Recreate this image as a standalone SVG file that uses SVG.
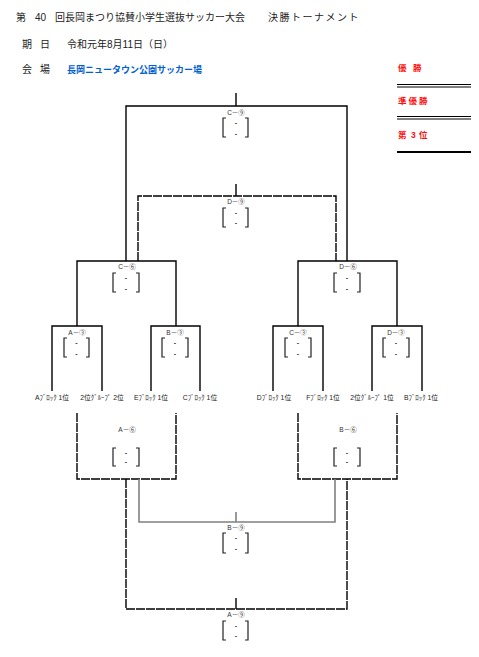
<svg xmlns="http://www.w3.org/2000/svg" width="479" height="657" viewBox="0 0 479 657">
<style>
text{font-family:"Liberation Sans","Noto Sans CJK JP",sans-serif;fill:#222}
.hd{font-size:10px}
.lb{font-size:6.5px;text-anchor:middle;fill:#333}
.sc{font-size:7px;text-anchor:middle;fill:#333;font-weight:bold}
.tm{font-size:6.8px;text-anchor:middle;fill:#222}
.rd{font-size:8.5px;font-weight:bold;fill:#ff1010}
.ln{stroke:#000;stroke-width:1.4;fill:none}
.ds{stroke:#000;stroke-width:1.4;fill:none;stroke-dasharray:9,1}
.gy{stroke:#808080;stroke-width:1.6;fill:none}
.br{stroke:#222;stroke-width:1.2;fill:none}
</style>
<g id="header">
<text class="hd" x="16" y="21">第<tspan x="35">40</tspan><tspan x="55">回長岡まつり協賛小学生選抜サッカー大会</tspan></text>
<text class="hd" x="268" y="21" letter-spacing="1.5">決勝トーナメント</text>
<text class="hd" x="22" y="48">期</text><text class="hd" x="40" y="48">日</text>
<text class="hd" x="67" y="48">令和元年8月11日（日）</text>
<text class="hd" x="22" y="73">会</text><text class="hd" x="40" y="73">場</text>
<text x="67" y="73" style="font-size:9px;font-weight:bold;fill:#0060d0">長岡ニュータウン公園サッカー場</text>
</g>
<g id="results">
<text class="rd" x="398" y="71">優<tspan x="413">勝</tspan></text>
<line x1="397" y1="84.5" x2="471" y2="84.5" stroke="#000" stroke-width="1"/>
<line x1="397" y1="87" x2="471" y2="87" stroke="#000" stroke-width="1"/>
<text class="rd" x="398" y="104" letter-spacing="2">準優勝</text>
<line x1="397" y1="116.5" x2="471" y2="116.5" stroke="#000" stroke-width="1"/>
<line x1="397" y1="119" x2="471" y2="119" stroke="#000" stroke-width="1"/>
<text class="rd" x="398" y="138">第<tspan x="411">3</tspan><tspan x="419">位</tspan></text>
<line x1="397" y1="152" x2="471" y2="152" stroke="#000" stroke-width="2"/>
</g>
<g id="connectors">
<path class="ln" d="M236,93 V106 M126,261 V106 H347 V261"/>
<path class="ln" d="M236,184 V196"/>
<path class="ds" d="M138,261 V196 H336 V261"/>
<path class="ln" d="M77,326 V261 H176 V326"/>
<path class="ln" d="M298,326 V261 H397 V326"/>
<path class="ln" d="M52,391 V326 H102 V391"/>
<path class="ln" d="M151,391 V326 H200 V391"/>
<path class="ln" d="M273,391 V326 H323 V391"/>
<path class="ln" d="M372,391 V326 H422 V391"/>
<path class="ds" d="M77,413 V479 H176 V413"/>
<path class="ds" d="M298,413 V479 H397 V413"/>
<path class="gy" d="M139,479 V522 H335 V479 M236,512 V522"/>
<path class="ds" d="M126,479 V609 H347 V479"/>
<path class="ln" d="M236,598 V609"/>
</g>
<g id="m-C9"><text class="lb" x="236" y="115">C－⑨</text>
<path class="br" d="M226,118 H223 V137 H226 M245,118 H248 V137 H245"/><text class="sc" x="236" y="125">-</text><text class="sc" x="236" y="136">-</text></g>
<g id="m-D9"><text class="lb" x="236" y="204">D－⑨</text>
<path class="br" d="M226,208 H223 V227 H226 M245,208 H248 V227 H245"/><text class="sc" x="236" y="215">-</text><text class="sc" x="236" y="225">-</text></g>
<g id="m-C6"><text class="lb" x="127" y="269">C－⑥</text>
<path class="br" d="M116,273 H113 V292 H116 M136,273 H139 V292 H136"/><text class="sc" x="126" y="280">-</text><text class="sc" x="126" y="291">-</text></g>
<g id="m-D6"><text class="lb" x="348" y="269">D－⑥</text>
<path class="br" d="M337,273 H334 V292 H337 M357,273 H360 V292 H357"/><text class="sc" x="347" y="280">-</text><text class="sc" x="347" y="291">-</text></g>
<g id="m-A3"><text class="lb" x="77" y="335">A－③</text>
<path class="br" d="M67,338 H64 V357 H67 M86,338 H89 V357 H86"/><text class="sc" x="76.5" y="345">-</text><text class="sc" x="76.5" y="356">-</text></g>
<g id="m-B3"><text class="lb" x="175" y="335">B－③</text>
<path class="br" d="M165,338 H162 V357 H165 M185,338 H188 V357 H185"/><text class="sc" x="175" y="345">-</text><text class="sc" x="175" y="356">-</text></g>
<g id="m-C3"><text class="lb" x="298" y="335">C－③</text>
<path class="br" d="M288,338 H285 V357 H288 M308,338 H311 V357 H308"/><text class="sc" x="298" y="345">-</text><text class="sc" x="298" y="356">-</text></g>
<g id="m-D3"><text class="lb" x="396" y="335">D－③</text>
<path class="br" d="M386,338 H383 V357 H386 M406,338 H409 V357 H406"/><text class="sc" x="396" y="345">-</text><text class="sc" x="396" y="356">-</text></g>
<g id="teams">
<text class="tm" x="52" y="400">Aﾌﾞﾛｯｸ 1位</text>
<text class="tm" x="102" y="400">2位ｸﾞﾙｰﾌﾟ 2位</text>
<text class="tm" x="151" y="400">Eﾌﾞﾛｯｸ 1位</text>
<text class="tm" x="200" y="400">Cﾌﾞﾛｯｸ 1位</text>
<text class="tm" x="274" y="400">Dﾌﾞﾛｯｸ 1位</text>
<text class="tm" x="323" y="400">Fﾌﾞﾛｯｸ 1位</text>
<text class="tm" x="372" y="400">2位ｸﾞﾙｰﾌﾟ 1位</text>
<text class="tm" x="421" y="400">Bﾌﾞﾛｯｸ  1位</text>
</g>
<g id="m-A6"><text class="lb" x="127" y="432">A－⑥</text>
<path class="br" d="M116,448 H113 V466 H116 M136,448 H139 V466 H136"/><text class="sc" x="126" y="455">-</text><text class="sc" x="126" y="464">-</text></g>
<g id="m-B6"><text class="lb" x="348" y="432">B－⑥</text>
<path class="br" d="M337,448 H334 V466 H337 M357,448 H360 V466 H357"/><text class="sc" x="347" y="455">-</text><text class="sc" x="347" y="464">-</text></g>
<g id="m-B9"><text class="lb" x="236" y="530">B－⑨</text>
<path class="br" d="M226,533 H223 V553 H226 M245,533 H248 V553 H245"/><text class="sc" x="236" y="540">-</text><text class="sc" x="236" y="551">-</text></g>
<g id="m-A9"><text class="lb" x="236" y="617">A－⑨</text>
<path class="br" d="M226,621 H223 V640 H226 M245,621 H248 V640 H245"/><text class="sc" x="236" y="628">-</text><text class="sc" x="236" y="638">-</text></g>
</svg>
